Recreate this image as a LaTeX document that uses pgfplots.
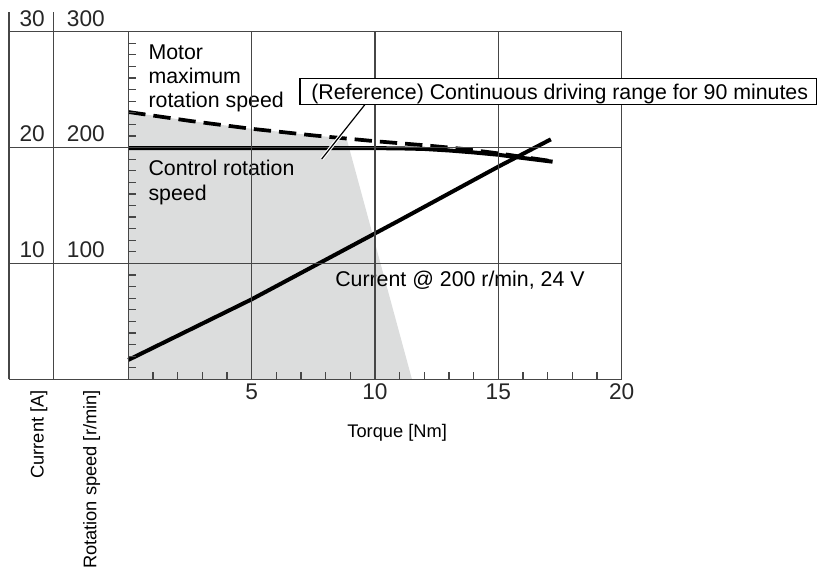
\documentclass[border=0pt]{standalone}
\usepackage{pgfplots}
\pgfplotsset{compat=1.18}
\usepackage{fontspec}
\setmainfont{Liberation Sans}
\definecolor{gridc}{RGB}{70,70,70}
\definecolor{fillc}{RGB}{220,221,221}
\newcommand{\numfont}{\fontsize{17}{20}\selectfont}
\newcommand{\annfont}{\fontsize{16}{18}\selectfont}
\newcommand{\labfont}{\fontsize{13.7}{16}\selectfont}
\begin{document}
\begin{tikzpicture}
\path[use as bounding box] (-96.225pt,-145.275pt) rectangle (518.775pt,284.475pt);
\begin{axis}[
  at={(0pt,0pt)}, anchor=south west,
  scale only axis, width=370pt, height=260.7pt,
  xmin=0, xmax=20, ymin=0, ymax=30,
  clip=false, axis on top,
  axis line style={gridc, line width=1pt},
  xtick={5,10,15,20}, ytick={10,20}, yticklabels={,,},
  minor xtick={1,...,19}, minor ytick={1,...,29},
  tick pos=left, tick align=inside,
  major tick length=0pt, minor tick length=5.5pt,
  minor tick style={gridc, line width=0.9pt},
  grid=major, major grid style={gridc, line width=1pt},
  xticklabel style={font=\numfont, text=black!85},
  /pgf/number format/assume math mode=true,
]
% continuous driving range (grey area)
\addplot[fill=fillc, draw=none] coordinates {(0,0) (0,23.07) (2.5,22.3) (5,21.62) (7.5,21.05) (8.85,20.78) (11.5,0)} -- cycle;
% control rotation speed
\addplot[black, line width=3pt] coordinates {(0,19.95) (8,19.95) (10,19.95) (11,19.93) (12,19.88) (13,19.75) (14,19.58) (15,19.38) (16,19.1) (17.2,18.78)};
% current
\addplot[black, line width=3pt] coordinates {(0,1.67) (5,6.9) (11.02,13.75) (15,18.35) (17.13,20.71)};
% motor maximum rotation speed
\addplot[black, line width=2.8pt, dash pattern=on 13pt off 6pt] coordinates {(0,23.07) (2.5,22.3) (5,21.62) (7.5,21.05) (10,20.55) (12,20.2) (13.5,19.9) (15,19.5) (17.2,18.82)};

% left label columns
\draw[gridc, line width=1pt] (axis cs:-4.836,0) -- (axis cs:0,0);
\draw[gridc, line width=1pt] (axis cs:-4.836,10) -- (axis cs:0,10);
\draw[gridc, line width=1pt] (axis cs:-4.836,20) -- (axis cs:0,20);
\draw[gridc, line width=1pt] (axis cs:-4.836,30) -- (axis cs:0,30);
\draw[gridc, line width=1pt] (axis cs:-4.836,0) -- (axis cs:-4.836,31.66);
\draw[gridc, line width=1pt] (axis cs:-3.04,0) -- (axis cs:-3.04,31.66);
\node[anchor=base east, inner sep=0, font=\numfont, text=black!85] at (axis cs:-3.377,30.49) {30};
\node[anchor=base east, inner sep=0, font=\numfont, text=black!85] at (axis cs:-0.944,30.49) {300};
\node[anchor=base east, inner sep=0, font=\numfont, text=black!85] at (axis cs:-3.377,20.49) {20};
\node[anchor=base east, inner sep=0, font=\numfont, text=black!85] at (axis cs:-0.944,20.49) {200};
\node[anchor=base east, inner sep=0, font=\numfont, text=black!85] at (axis cs:-3.377,10.49) {10};
\node[anchor=base east, inner sep=0, font=\numfont, text=black!85] at (axis cs:-0.944,10.49) {100};
\node[anchor=east, rotate=90, inner sep=0, font=\labfont] at (axis cs:-3.62,-0.92) {Current [A]};
\node[anchor=east, rotate=90, inner sep=0, font=\labfont] at (axis cs:-1.49,-0.92) {Rotation speed [r/min]};
\node[font=\labfont, inner sep=0] at (axis cs:10.9,-4.6) {Torque [Nm]};

% annotations
\node[anchor=base west, inner sep=0, font=\annfont] at (axis cs:0.811,27.63) {Motor};
\node[anchor=base west, inner sep=0, font=\annfont] at (axis cs:0.811,25.55) {maximum};
\node[anchor=base west, inner sep=0, font=\annfont] at (axis cs:0.811,23.47) {rotation speed};
\node[anchor=base west, inner sep=0, font=\annfont] at (axis cs:0.811,17.57) {Control rotation};
\node[anchor=base west, inner sep=0, font=\annfont] at (axis cs:0.811,15.47) {speed};
\node[anchor=base west, inner sep=0, font=\annfont] at (axis cs:8.38,8.05) {Current @ 200 r/min, 24 V};

\coordinate (bsw) at (axis cs:6.961,23.70);
\coordinate (bne) at (axis cs:27.90,25.98);
\coordinate (tx) at (axis cs:7.406,24.16);
\coordinate (l1) at (axis cs:9.59,23.70);
\coordinate (l2) at (axis cs:7.84,19.01);
\end{axis}
\draw[white, line width=2.6pt] (l1) -- (l2);
\draw[black, line width=0.9pt] (l1) -- (l2);
\draw[black, line width=0.8pt, fill=white] (bsw) rectangle (bne);
\node[anchor=base west, inner sep=0, font=\annfont] at (tx) {(Reference) Continuous driving range for 90 minutes};
\end{tikzpicture}
\end{document}
